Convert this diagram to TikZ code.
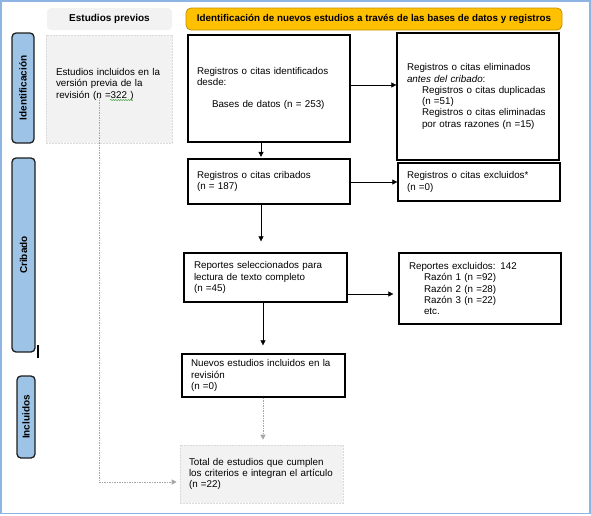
\documentclass[tikz,border=0pt]{standalone}
\usepackage{fontspec}
\setmainfont{Liberation Sans}
\usetikzlibrary{arrows.meta,decorations.pathmorphing}
\definecolor{sidefill}{RGB}{157,195,230}
\definecolor{sidedraw}{RGB}{30,30,30}
\definecolor{orangefill}{RGB}{255,192,0}
\definecolor{orangedraw}{RGB}{191,144,0}
\definecolor{graybg}{RGB}{242,242,242}
\definecolor{graydash}{RGB}{218,218,218}
\definecolor{arrgray}{RGB}{166,166,166}
\definecolor{outerblue}{RGB}{142,180,227}
\definecolor{squig}{RGB}{60,160,60}
\newcommand\fsz{\fontsize{9.8}{11.3}\selectfont}
\newcommand\fhd{\fontsize{10}{12}\selectfont\bfseries}
\begin{document}
\begin{tikzpicture}[x=1pt,y=-1pt,
  box/.style={draw=black, line width=1.3pt, fill=white, inner sep=0pt, align=left, font=\fsz},
  gbox/.style={fill=graybg, draw=graydash, dash pattern=on 2pt off 1pt, line width=0.6pt, inner sep=0pt, align=left, font=\fsz},
  side/.style={fill=sidefill, draw=sidedraw, line width=1.3pt, rounded corners=4pt, rotate=90, inner sep=0pt, font=\fhd},
  hdrg/.style={fill=graybg, rounded corners=4pt, inner sep=0pt, font=\fhd},
  hdro/.style={fill=orangefill, draw=orangedraw, line width=0.8pt, rounded corners=5pt, inner sep=0pt, font=\fontsize{9.8}{12}\selectfont\bfseries},
  arr/.style={-{Triangle[length=5pt,width=5pt]}, line width=0.6pt},
  garr/.style={-{Triangle[length=5pt,width=5pt]}, draw=arrgray, line width=0.8pt, dash pattern=on 1.5pt off 1pt}
]
\useasboundingbox (0,0) rectangle (591,515);
\draw[outerblue, line width=1.5pt] (0.75,0.75) rectangle (589.8,513.3);

% headers
\node[hdrg, minimum width=125pt, minimum height=22pt] (hprev) at (109.5,19) {Estudios previos};
\node[hdro, minimum width=376pt, minimum height=22pt] (hnew) at (374,19) {Identificación de nuevos estudios a través de las bases de datos y registros};

% side bars
\node[side, minimum width=110pt, minimum height=22pt] (sid) at (23,88) {Identificación};
\node[side, minimum width=194pt, minimum height=23pt] (scr) at (23.5,255) {Cribado};
\node[side, minimum width=82pt, minimum height=18pt] (sin) at (26,417) {Incluidos};
\draw[line width=1.3pt] (38,345) -- (38,358);

% previous studies
\node[gbox, minimum width=126pt, minimum height=108pt, text width=106pt] (prev) at (109,89)
  {Estudios incluidos en la\\versión previa de la\\revisión (n =322 )\\\mbox{}};
\draw[squig, line width=0.5pt, decorate, decoration={snake, amplitude=0.6pt, segment length=2.5pt}] (110,100) -- (133,100);

% main boxes
\node[box, minimum width=162pt, minimum height=107pt, text width=144pt] (ident) at (269,88.5)
  {Registros o citas identificados\\desde:\\\mbox{}\\\hspace*{15pt}Bases de datos (n = 253)};
\node[box, minimum width=162pt, minimum height=127pt, text width=142pt] (elim) at (478,96.5)
  {Registros o citas eliminados\\\textit{antes del cribado}:\\\hspace*{15pt}Registros o citas duplicadas\\\hspace*{15pt}(n =51)\\\hspace*{15pt}Registros o citas eliminadas\\\hspace*{15pt}por otras razones (n =15)};
\node[box, minimum width=162pt, minimum height=45pt, text width=144pt] (crib) at (269,181.5)
  {Registros o citas cribados\\(n = 187)};
\node[box, minimum width=162pt, minimum height=38pt, text width=144pt] (excl) at (479,182)
  {Registros o citas excluidos*\\(n =0)};
\node[box, minimum width=163pt, minimum height=49pt, text width=143pt] (rep) at (265.5,277.5)
  {Reportes seleccionados para\\lectura de texto completo\\(n =45)};
\node[box, minimum width=162pt, minimum height=71pt, text width=142pt] (repx) at (480,288.5)
  {Reportes excluidos: 142\\\hspace*{15pt}Razón 1 (n =92)\\\hspace*{15pt}Razón 2 (n =28)\\\hspace*{15pt}Razón 3 (n =22)\\\hspace*{15pt}etc.};
\node[box, minimum width=163pt, minimum height=43pt, text width=145pt] (nuevos) at (263.5,375.5)
  {Nuevos estudios incluidos en la\\revisión\\(n =0)};
\node[gbox, minimum width=163pt, minimum height=58pt, text width=145pt] (total) at (261.5,474)
  {Total de estudios que cumplen\\los criterios e integran el artículo\\(n =22)};

% helper coordinates
\coordinate (c261) at (261,0);
\coordinate (c263) at (263,0);
\coordinate (r85) at (0,85);
\coordinate (r182) at (0,182);
\coordinate (r294) at (0,294);
\coordinate (r482) at (0,482);
\coordinate (ps) at (99,97);

% connectors
\draw[arr, shorten >=1.5pt] (ident.south -| c261) -- (crib.north -| c261);
\draw[arr] (ident.east |- r85) -- (elim.west |- r85);
\draw[arr] (crib.east |- r182) -- (excl.west |- r182);
\draw[arr, shorten >=11pt] (crib.south -| c261) -- (rep.north -| c261);
\draw[arr, shorten >=5pt] (rep.east |- r294) -- (repx.west |- r294);
\draw[arr, shorten >=8pt] (rep.south -| c263) -- (nuevos.north -| c263);
\draw[garr, shorten >=5pt] (nuevos.south -| c263) -- (total.north -| c263);
\draw[garr, shorten >=3pt] (ps) |- (total.west |- r482);
\end{tikzpicture}
\end{document}
